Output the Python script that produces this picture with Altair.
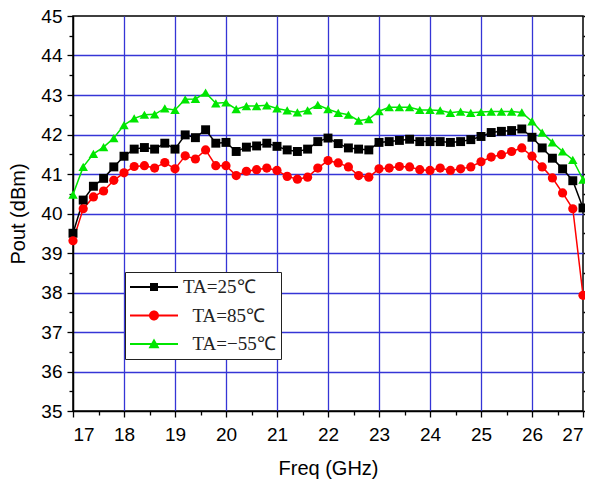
import altair as alt
import pandas as pd

freq = [17.0, 17.2, 17.4, 17.6, 17.8, 18.0, 18.2, 18.4, 18.6, 18.8,
        19.0, 19.2, 19.4, 19.6, 19.8, 20.0, 20.2, 20.4, 20.6, 20.8,
        21.0, 21.2, 21.4, 21.6, 21.8, 22.0, 22.2, 22.4, 22.6, 22.8,
        23.0, 23.2, 23.4, 23.6, 23.8, 24.0, 24.2, 24.4, 24.6, 24.8,
        25.0, 25.2, 25.4, 25.6, 25.8, 26.0, 26.2, 26.4, 26.6, 26.8,
        27.0]

pout_25 = [39.50, 40.34, 40.69, 40.89, 41.18, 41.45, 41.63, 41.67, 41.63, 41.78,
           41.63, 41.99, 41.92, 42.12, 41.78, 41.80, 41.57, 41.68, 41.71, 41.78,
           41.70, 41.61, 41.57, 41.63, 41.82, 41.91, 41.77, 41.66, 41.63, 41.61,
           41.80, 41.82, 41.85, 41.88, 41.82, 41.82, 41.82, 41.80, 41.82, 41.87,
           41.95, 42.05, 42.08, 42.10, 42.14, 41.93, 41.66, 41.40, 41.13, 40.83,
           40.14]

pout_85 = [39.31, 40.12, 40.42, 40.57, 40.84, 41.03, 41.19, 41.21, 41.15, 41.29,
           41.13, 41.46, 41.38, 41.61, 41.21, 41.21, 40.96, 41.07, 41.11, 41.15,
           41.09, 40.94, 40.87, 40.92, 41.15, 41.34, 41.28, 41.18, 40.96, 40.92,
           41.13, 41.15, 41.19, 41.18, 41.11, 41.09, 41.15, 41.09, 41.13, 41.18,
           41.31, 41.43, 41.49, 41.57, 41.66, 41.45, 41.18, 40.90, 40.52, 40.12,
           37.93]

pout_m55 = [40.48, 41.18, 41.51, 41.68, 41.91, 42.24, 42.41, 42.50, 42.51, 42.66,
            42.62, 42.89, 42.90, 43.06, 42.79, 42.81, 42.64, 42.72, 42.72, 42.74,
            42.66, 42.61, 42.56, 42.61, 42.75, 42.64, 42.55, 42.50, 42.35, 42.39,
            42.59, 42.69, 42.69, 42.69, 42.62, 42.62, 42.61, 42.55, 42.58, 42.55,
            42.57, 42.58, 42.58, 42.58, 42.56, 42.33, 42.05, 41.80, 41.57, 41.36,
            40.86]

series_names = ["TA=25\u2103", "TA=85\u2103", "TA=\u221255\u2103"]
series_colors = ["#000000", "#ff0000", "#00e600"]
point_shapes = ["square", "circle", "triangle-up"]
point_sizes = [80, 90, 100]

x_ticks = [17, 17.5, 18, 18.5, 19, 19.5, 20, 20.5, 21, 21.5, 22,
           22.5, 23, 23.5, 24, 24.5, 25, 25.5, 26, 26.5, 27]
y_ticks = [35, 35.5, 36, 36.5, 37, 37.5, 38, 38.5, 39, 39.5, 40,
           40.5, 41, 41.5, 42, 42.5, 43, 43.5, 44, 44.5, 45]

rows = []
for name, vals in zip(series_names, [pout_25, pout_85, pout_m55]):
    for f, v in zip(freq, vals):
        rows.append({"freq": f, "pout": v, "series": name})
df = pd.DataFrame(rows)

# legend symbols: line through marker (filled paths, unit = 10 px)
line_part = "M-2.4,-0.1H2.4V0.1H-2.4Z "
legend_paths = [
    line_part + "M-0.4,-0.4H0.4V0.4H-0.4Z",
    line_part + "M-0.5,0A0.5,0.5 0 1,1 0.5,0A0.5,0.5 0 1,1 -0.5,0Z",
    line_part + "M0,-0.55L0.55,0.42L-0.55,0.42Z",
]

GRID = "#3535d6"
FONT = "Liberation Sans"
LABEL_EXPR = "datum.value % 1 === 0 ? '' + datum.value : ''"

x_axis = alt.Axis(
    values=x_ticks,
    labelExpr=LABEL_EXPR,
    labelOverlap=False,
    tickSize={"condition": {"test": "datum.value % 1 !== 0", "value": 4}, "value": 6},
    grid=True,
    gridColor=GRID,
    gridWidth=1.3,
    gridOpacity={"condition": {"test": "datum.value % 1 !== 0 || datum.value === 17 || datum.value === 27", "value": 0}, "value": 1},
    domainColor="black", domainWidth=1.5,
    tickColor="black", tickWidth=1.3,
    labelFont=FONT, labelFontSize=19, labelColor="black", labelPadding=8,
    title="Freq (GHz)", titleFont=FONT, titleFontSize=20, titleFontWeight="normal",
    titleColor="black", titlePadding=14,
)
y_axis = alt.Axis(
    values=y_ticks,
    labelExpr=LABEL_EXPR,
    labelOverlap=False,
    tickSize={"condition": {"test": "datum.value % 1 !== 0", "value": 4}, "value": 6},
    grid=True,
    gridColor=GRID,
    gridWidth=1.3,
    gridOpacity={"condition": {"test": "datum.value % 1 !== 0 || datum.value === 35 || datum.value === 45", "value": 0}, "value": 1},
    domainColor="black", domainWidth=1.5,
    tickColor="black", tickWidth=1.3,
    labelFont=FONT, labelFontSize=19, labelColor="black", labelPadding=5,
    title="Pout (dBm)", titleFont=FONT, titleFontSize=20, titleFontWeight="normal",
    titleColor="black", titlePadding=12,
)
y_axis_right = alt.Axis(
    orient="right", values=y_ticks, labels=False, grid=False, domain=False,
    tickSize=4, tickColor="black", tickWidth=1.3, title=None,
)

x_scale = alt.Scale(domain=[17, 27], nice=False, zero=False)
y_scale = alt.Scale(domain=[35, 45], nice=False, zero=False)

x_enc = alt.X("freq:Q", scale=x_scale, axis=x_axis)
color_scale = alt.Scale(domain=series_names, range=series_colors)

lines = alt.Chart(df).mark_line(strokeWidth=1.5).encode(
    x=x_enc,
    y=alt.Y("pout:Q", scale=y_scale, axis=y_axis),
    color=alt.Color("series:N", scale=color_scale, legend=None),
    detail="series:N",
)

points = alt.Chart(df).mark_point(filled=True, opacity=1).encode(
    x=x_enc,
    y=alt.Y("pout:Q", scale=y_scale, axis=y_axis_right),
    color=alt.Color("series:N", scale=color_scale, legend=None),
    shape=alt.Shape("series:N", scale=alt.Scale(domain=series_names, range=point_shapes), legend=None),
    size=alt.Size("series:N", scale=alt.Scale(domain=series_names, range=point_sizes), legend=None),
)

legend_cfg = dict(
    title=None,
    orient="none",
    legendX=52,
    legendY=256,
    fillColor="white",
    strokeColor="#222222",
    padding=5,
    symbolSize=400,
    symbolOffset=14,
    symbolStrokeWidth=0,
    symbolOpacity=1,
    labelFont="Liberation Serif",
    labelFontSize=19,
    labelColor="#222222",
    labelOffset=19,
    rowPadding=8.5,
    labelExpr="indexof(datum.label, '25\u2103') === 3 ? datum.label : '\u200b\u2002' + datum.label",
)

legend_layer = alt.Chart(df).transform_filter("datum.pout < 0").mark_point(filled=True, opacity=1).encode(
    x=x_enc,
    y=alt.Y("pout:Q", scale=y_scale, axis=None),
    color=alt.Color("series:N", scale=color_scale, legend=alt.Legend(**legend_cfg)),
    shape=alt.Shape("series:N", scale=alt.Scale(domain=series_names, range=legend_paths),
                    legend=alt.Legend(**legend_cfg)),
)

chart = alt.layer(lines, points, legend_layer).resolve_scale(
    color="independent", shape="independent"
).resolve_axis(
    y="independent"
).properties(
    width=510,
    height=395,
    padding={"left": 65, "top": 8, "right": 2, "bottom": 68},
    autosize=alt.AutoSizeParams(type="none"),
).configure_view(
    stroke="black", strokeWidth=1.5
)

chart.save("out.html", embed_options={"renderer": "svg", "actions": False})
